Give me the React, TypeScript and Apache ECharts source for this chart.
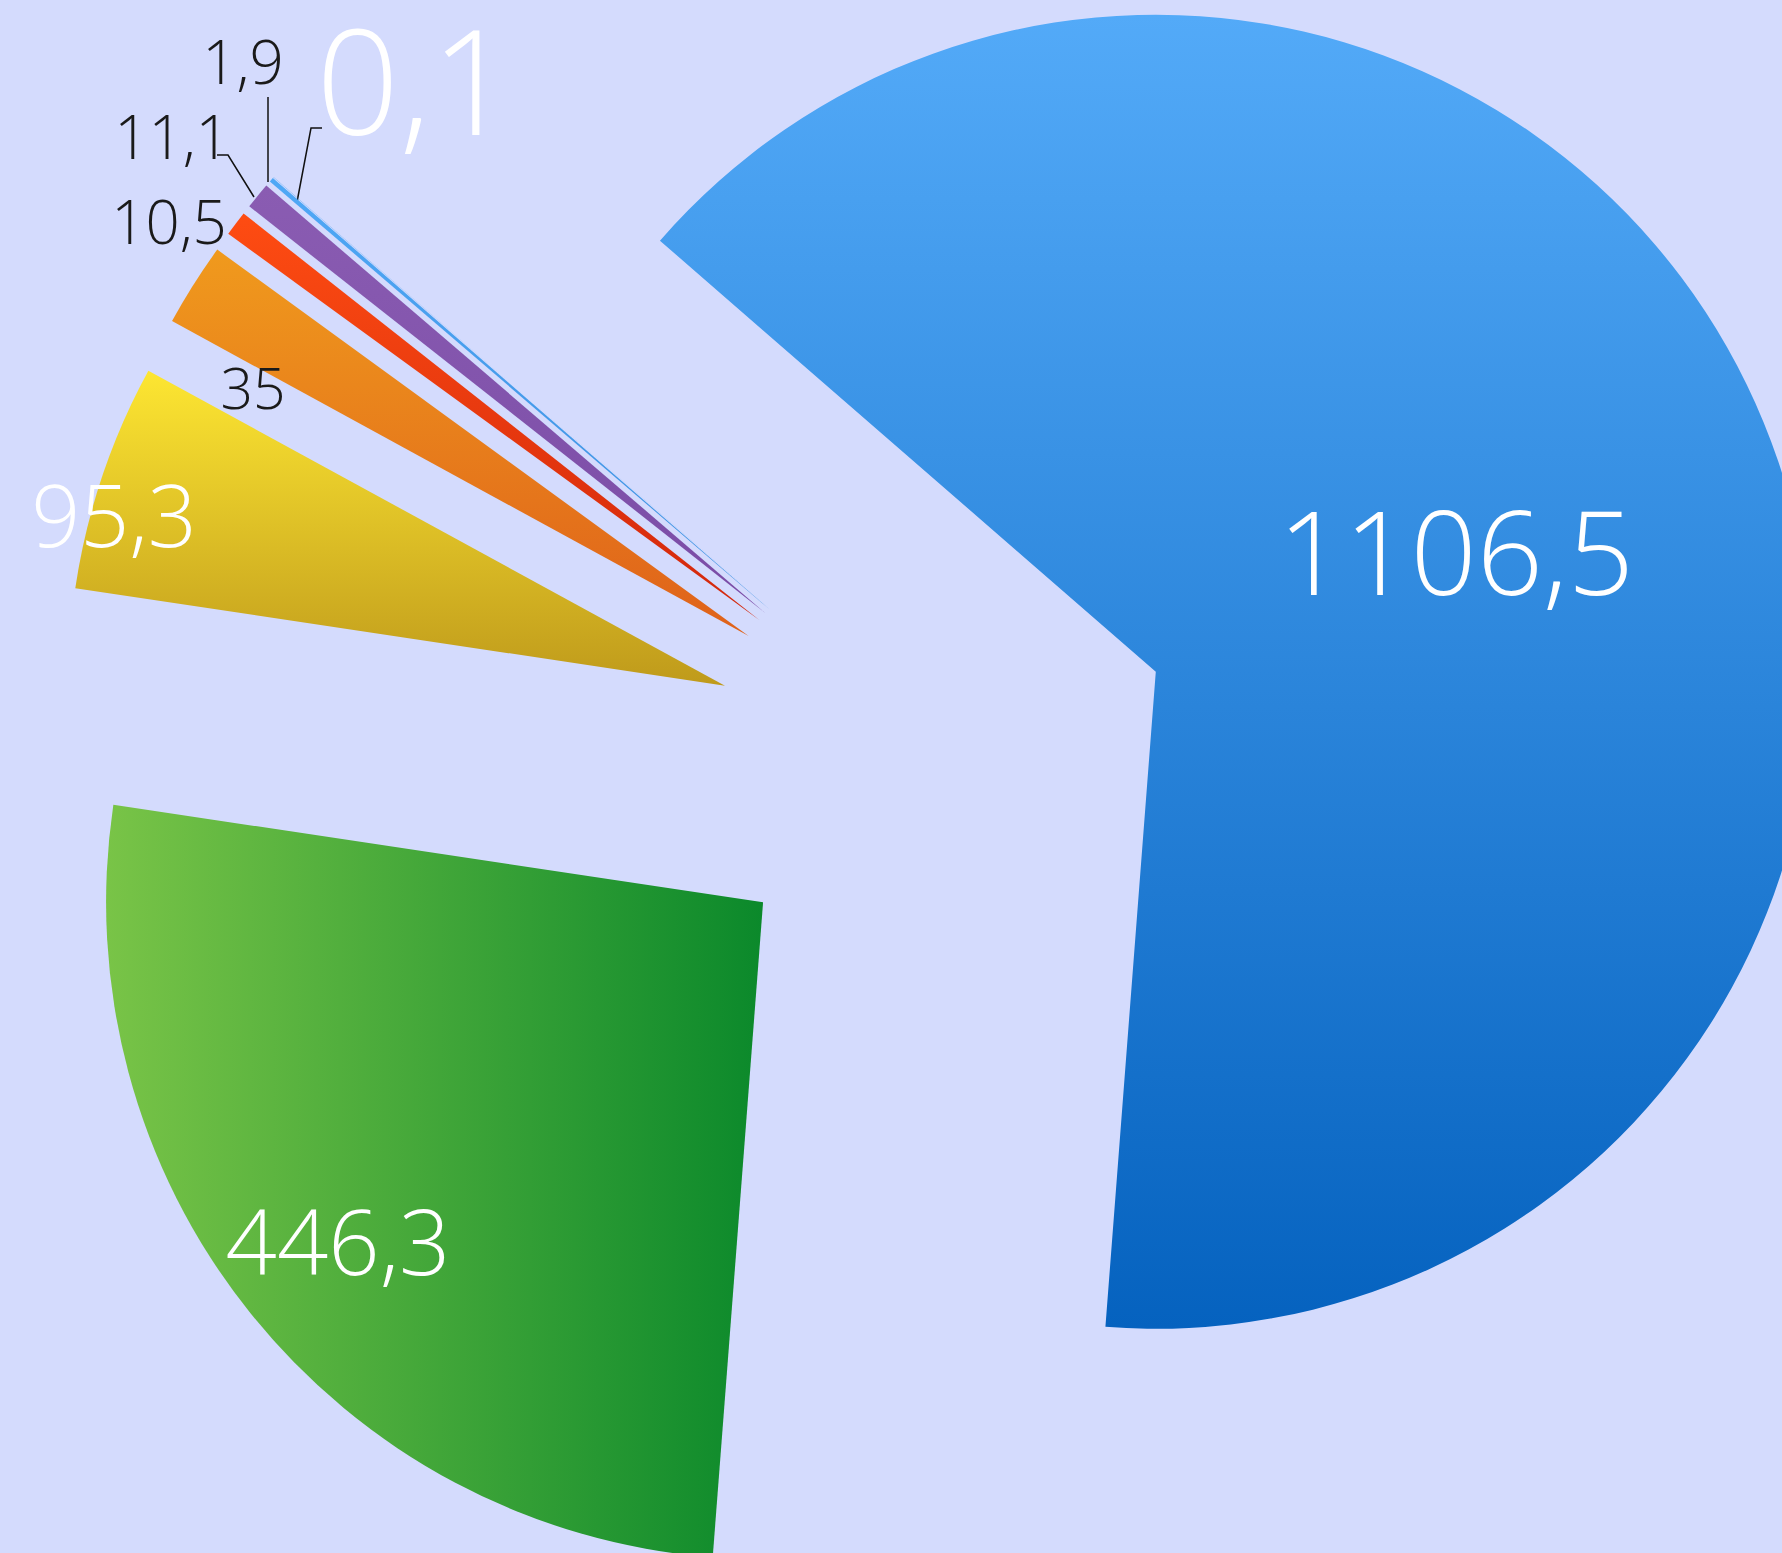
import React, { useEffect, useRef } from 'react';
import * as echarts from 'echarts';

const values = [1106.5, 446.3, 95.3, 35, 10.5, 11.1, 1.9, 0.1];
const labelTexts = values.map((v) => String(v).replace('.', ','));
const topColors = ['#53aaf8', '#79c447', '#fde632', '#f09a1d', '#fe4c12', '#8a5cb2', '#4fa8f6', '#4fa8f6'];
const bottomColors = ['#0562bf', '#0b892b', '#bf9a1b', '#df611a', '#d1260c', '#7a4ca6', '#3d90e0', '#3d90e0'];
const gradientDirs = ['v', 'h', 'v', 'v', 'v', 'v', 'v', 'v'];
const labelColors = ['#ffffff', '#ffffff', '#ffffff', '#1a1a1a', '#1a1a1a', '#1a1a1a', '#1a1a1a', '#ffffff'];
const labelSizes = [116, 90, 86, 57, 60, 60, 60, 146];
const labelPos = [
  [1456, 550], [338, 1240], [114, 513], [253, 387], [169, 221], [172, 136], [243, 61], [415, 78],
];
const labelLines: (number[][] | null)[] = [
  null, null, null, null, null,
  [[254, 197], [228, 155], [217, 155]],
  [[268, 182], [268, 140], [268, 97]],
  [[297, 202], [311, 128], [322, 128]],
];

const START_ANGLE = 139;
const SELECT_OFFSET = 230;
const CENTER = [943, 759];
const RADIUS = 657;

export default function App() {
  const ref = useRef<HTMLDivElement>(null);
  useEffect(() => {
    const chart = echarts.init(ref.current!, null, { renderer: 'svg' });
    const sliceData = values.map((v, i) => ({
      value: v,
      name: 'item' + i,
      selected: true,
      itemStyle: {
        color: new echarts.graphic.LinearGradient(
          0, 0, gradientDirs[i] === 'h' ? 1 : 0, gradientDirs[i] === 'h' ? 0 : 1,
          [
            { offset: 0, color: topColors[i] },
            { offset: 1, color: bottomColors[i] },
          ]
        ),
      },
    }));
    const labelData = values.map((v, i) => ({
      value: v,
      name: 'label' + i,
      label: {
        formatter: labelTexts[i],
        color: labelColors[i],
        fontSize: labelSizes[i],
      },
      labelLine: { show: labelLines[i] != null },
    }));
    chart.setOption({
      animation: false,
      backgroundColor: '#d4dbfd',
      series: [
        {
          type: 'pie',
          center: CENTER,
          radius: [0, RADIUS],
          startAngle: START_ANGLE,
          clockwise: true,
          minAngle: 0,
          selectedMode: 'multiple',
          selectedOffset: SELECT_OFFSET,
          silent: true,
          emphasis: { disabled: true, scale: false },
          label: { show: false },
          labelLine: { show: false },
          data: sliceData,
        },
        {
          type: 'pie',
          center: CENTER,
          radius: [0, RADIUS],
          startAngle: START_ANGLE,
          clockwise: true,
          minAngle: 0,
          silent: true,
          selectedMode: false,
          avoidLabelOverlap: false,
          emphasis: { disabled: true, scale: false },
          itemStyle: { color: 'rgba(0,0,0,0)' },
          label: {
            show: true,
            position: 'outside',
            fontFamily: '"Open Sans", Lato, sans-serif',
            fontWeight: 300,
          },
          labelLine: {
            show: false,
            lineStyle: { color: '#111111', width: 1.5 },
          },
          labelLayout: (params: any) => {
            const i = params.dataIndex;
            const out: any = {
              x: labelPos[i][0],
              y: labelPos[i][1],
              align: 'center',
              verticalAlign: 'middle',
            };
            if (labelLines[i]) out.labelLinePoints = labelLines[i];
            return out;
          },
          data: labelData,
        },
      ],
    });
    return () => chart.dispose();
  }, []);
  return (
    <div
      ref={ref}
      style={{ position: 'fixed', left: 0, top: 0, width: 1782, height: 1553 }}
    />
  );
}
